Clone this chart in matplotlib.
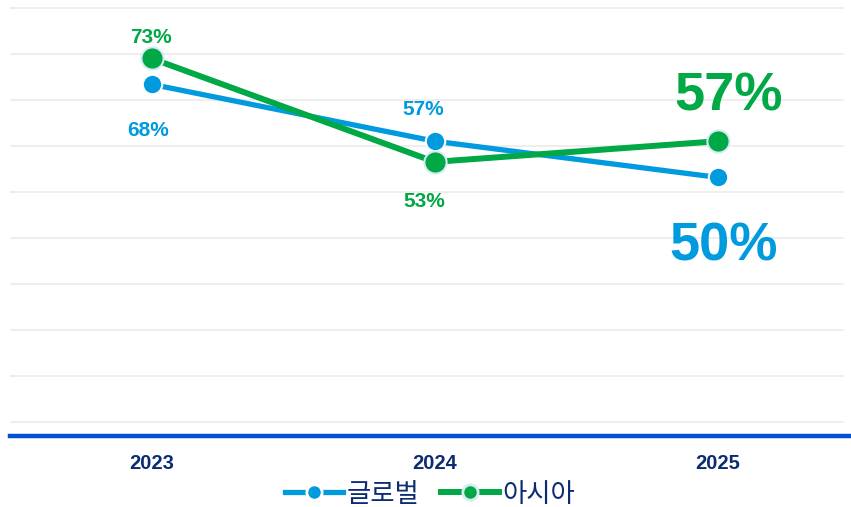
import numpy as np
import matplotlib
matplotlib.use("Agg")
import matplotlib.pyplot as plt

years = ["2023", "2024", "2025"]
global_vals = [68, 57, 50]
asia_vals = [73, 53, 57]
series_names = ["글로벌", "아시아"]

BLUE = "#009ADE"
GREEN = "#00A846"
NAVY = "#0C2C72"
AXIS_BLUE = "#0050D8"

plt.rcParams["font.family"] = ["Liberation Sans", "Noto Sans CJK KR", "DejaVu Sans"]

fig = plt.figure(figsize=(8.51, 5.07), dpi=100)
ax = fig.add_axes([10 / 851, 71 / 507, 841 / 851, 436 / 507])

x = np.arange(len(years))
ax.set_xlim(-0.5, 2.47)
ax.set_ylim(0, 84.3)

# decorative grid
for g in np.linspace(2.7, 82.8, 10):
    ax.axhline(g, xmin=0, xmax=833 / 841, color="#EBEBEB", lw=1.2, zorder=0)

ax.plot(x, global_vals, color=BLUE, lw=3.8, marker="o", markersize=14,
        markeredgecolor="white", markeredgewidth=1.5, label=series_names[0], zorder=3)
ax.plot(x, asia_vals, color=GREEN, lw=4.3, marker="o", markersize=16,
        markeredgecolor="#D6ECF3", markeredgewidth=1.5, label=series_names[1], zorder=4)

# label offsets in pixels (dx, dy) and sizes
g_off = [(-3, -46), (-12, 32), (6, -69)]
a_off = [(-1, 21), (-10, -40), (11, 45)]
sizes = [15, 15, 39]
for i in range(len(years)):
    ax.annotate(f"{global_vals[i]}%", (x[i], global_vals[i]), xytext=g_off[i],
                textcoords="offset pixels", ha="center", va="center",
                color=BLUE, fontsize=sizes[i], fontweight="bold")
    ax.annotate(f"{asia_vals[i]}%", (x[i], asia_vals[i]), xytext=a_off[i],
                textcoords="offset pixels", ha="center", va="center",
                color=GREEN, fontsize=sizes[i], fontweight="bold")

ax.set_xticks(x)
ax.set_xticklabels(years, fontsize=14.5, fontweight="bold", color=NAVY)
ax.tick_params(axis="x", length=0, pad=13)
ax.set_yticks([])
for s in ["top", "left", "right"]:
    ax.spines[s].set_visible(False)
ax.spines["bottom"].set_color(AXIS_BLUE)
ax.spines["bottom"].set_linewidth(3.2)

leg = fig.legend(loc="center", bbox_to_anchor=(430 / 851, 1 - 494 / 507), ncol=2,
                 frameon=False, handlelength=2.2, handletextpad=0.15, columnspacing=0.8,
                 prop={"family": ["Noto Sans CJK KR", "DejaVu Sans"], "size": 19})
for t in leg.get_texts():
    t.set_color(NAVY)
for h in leg.legend_handles:
    h.set_markersize(11)
    h.set_markeredgewidth(2)

fig.savefig("out.png", dpi=100)
